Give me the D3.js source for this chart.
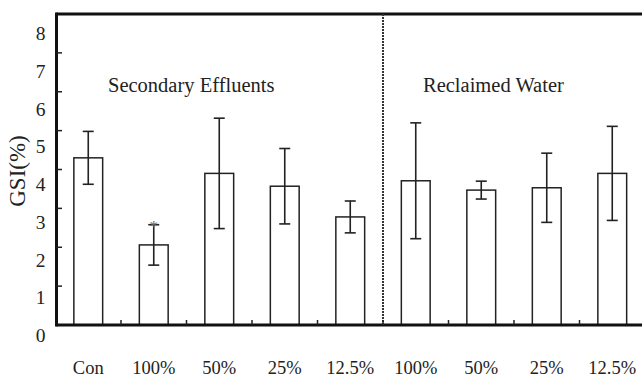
<!DOCTYPE html>
<html>
<head>
<meta charset="utf-8">
<script src="https://cdn.jsdelivr.net/npm/d3@7"></script>
<style>
  body { margin: 0; background: #fff; }
  text { font-family: "Liberation Serif", "DejaVu Serif", serif; fill: #222; }
</style>
</head>
<body>
<div id="chart"></div>
<script>
//
// GSI bar chart, two treatment groups split by a divider
//
const categories = ['Con', '100%', '50%', '25%', '12.5%', '100% ', '50% ', '25% ', '12.5% ']
const tickLabels = ['Con', '100%', '50%', '25%', '12.5%', '100%', '50%', '25%', '12.5%']
const means = [4.30, 2.06, 3.90, 3.57, 2.78, 3.71, 3.47, 3.53, 3.90]
const errors = [0.68, 0.52, 1.42, 0.97, 0.41, 1.49, 0.23, 0.89, 1.21]
const significant = [false, true, false, false, false, false, false, false, false]
const yTicks = [0, 1, 2, 3, 4, 5, 6, 7, 8]
const groupTitles = ['Secondary Effluents', 'Reclaimed Water']

const width = 642
const height = 377

const svg = d3.select('#chart')
  .append('svg')
  .attr('width', width)
  .attr('height', height)

// scales
const x = d3.scaleBand()
  .domain(categories)
  .range([55.5, 55.5 + 65.5 * categories.length])
  .paddingInner(0.56)
  .paddingOuter(0.28)
const y = d3.scaleLinear().domain([0, 8]).range([325, 14])
// tick labels in the original sit a little below their ticks
const yLabel = d3.scaleLinear().domain([0, 8]).range([342, 40])

const step = x.step()
const left = 56.5

// frame: top line, left axis
svg.append('line')
  .attr('x1', left).attr('x2', width)
  .attr('y1', y(8)).attr('y2', y(8))
  .attr('stroke', '#111').attr('stroke-width', 3)
svg.append('line')
  .attr('x1', left).attr('x2', left)
  .attr('y1', y(8) - 1.5).attr('y2', y(0) + 1.5)
  .attr('stroke', '#111').attr('stroke-width', 3)

// bars
svg.append('g')
  .selectAll('rect')
  .data(means)
  .enter().append('rect')
  .attr('x', (d, i) => x(categories[i]))
  .attr('y', d => y(d))
  .attr('width', x.bandwidth())
  .attr('height', d => y(0) - y(d))
  .attr('fill', '#fff')
  .attr('stroke', '#222')
  .attr('stroke-width', 1.5)

// bottom axis
svg.append('line')
  .attr('x1', left).attr('x2', width)
  .attr('y1', y(0)).attr('y2', y(0))
  .attr('stroke', '#111').attr('stroke-width', 3)

// divider between the two groups
const divX = x(categories[5]) - (step - x.bandwidth()) / 2
svg.append('line')
  .attr('x1', divX).attr('x2', divX)
  .attr('y1', y(8)).attr('y2', y(0))
  .attr('stroke', '#333').attr('stroke-width', 2)
  .attr('stroke-dasharray', '2,1')

// error bars
const err = svg.append('g').attr('stroke', '#222').attr('stroke-width', 1.6)
means.forEach(function (m, i) {
  const cx = x(categories[i]) + x.bandwidth() / 2
  const hi = y(m + errors[i])
  const lo = y(m - errors[i])
  err.append('line').attr('x1', cx).attr('x2', cx).attr('y1', hi).attr('y2', lo)
  err.append('line').attr('x1', cx - 5.5).attr('x2', cx + 5.5).attr('y1', hi).attr('y2', hi)
  err.append('line').attr('x1', cx - 5.5).attr('x2', cx + 5.5).attr('y1', lo).attr('y2', lo)
  if (significant[i]) {
    svg.append('text')
      .attr('x', cx)
      .attr('y', hi + 7)
      .attr('text-anchor', 'middle')
      .style('font-size', '17px')
      .style('fill', '#666')
      .text('*')
  }
})

// small upward ticks between categories on the x axis
svg.append('g')
  .selectAll('line')
  .data(categories.slice(1))
  .enter().append('line')
  .attr('x1', d => x(d) - (step - x.bandwidth()) / 2)
  .attr('x2', d => x(d) - (step - x.bandwidth()) / 2)
  .attr('y1', y(0))
  .attr('y2', y(0) - 5)
  .attr('stroke', '#222').attr('stroke-width', 1.5)

// y ticks (inward) and labels
svg.append('g')
  .selectAll('line')
  .data(yTicks.slice(1, 8))
  .enter().append('line')
  .attr('x1', left).attr('x2', left + 5.5)
  .attr('y1', d => y(d)).attr('y2', d => y(d))
  .attr('stroke', '#222').attr('stroke-width', 1.5)

svg.append('g')
  .selectAll('text')
  .data(yTicks)
  .enter().append('text')
  .attr('x', 40.5)
  .attr('y', d => yLabel(d))
  .attr('text-anchor', 'middle')
  .style('font-size', '19.5px')
  .text(d => d)

// x labels
svg.append('g')
  .selectAll('text')
  .data(categories)
  .enter().append('text')
  .attr('x', d => x(d) + x.bandwidth() / 2)
  .attr('y', 374)
  .attr('text-anchor', 'middle')
  .style('font-size', '18.5px')
  .text((d, i) => tickLabels[i])

// y axis title
svg.append('text')
  .attr('transform', 'translate(25,171)rotate(-90)')
  .attr('text-anchor', 'middle')
  .style('font-size', '23px')
  .text('GSI(%)')

// group titles
svg.append('text')
  .attr('x', 108).attr('y', 92)
  .style('font-size', '20.5px')
  .text(groupTitles[0])
svg.append('text')
  .attr('x', 423).attr('y', 92)
  .style('font-size', '20.5px')
  .text(groupTitles[1])
</script>
</body>
</html>
